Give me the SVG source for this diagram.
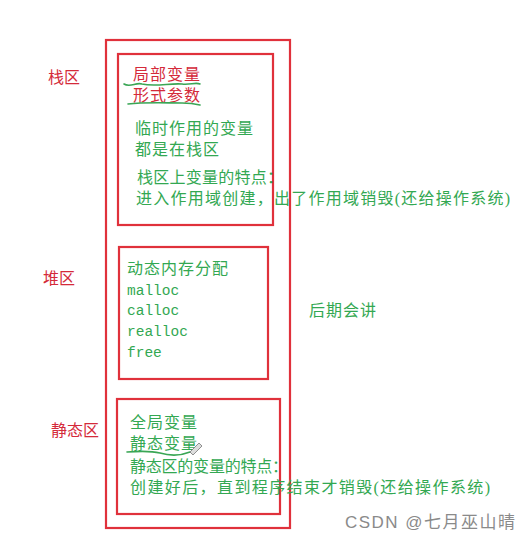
<svg xmlns="http://www.w3.org/2000/svg" width="531" height="541" viewBox="0 0 531 541">
<style>
.box{fill:none;stroke:#e0313b;stroke-width:2.2}
.lbl{font-family:"Liberation Serif","Noto Sans CJK SC",serif;font-size:16px;fill:#d42a3a}
.g{font-family:"Liberation Serif","Noto Sans CJK SC",serif;font-size:16px;fill:#33a852}
.r{font-family:"Liberation Serif","Noto Sans CJK SC",serif;font-size:16px;fill:#d42a3a}
.m{font-family:"Liberation Mono",monospace;font-size:14.5px;fill:#33a852}
.ink{fill:none;stroke:#3aa655;stroke-width:1.6;stroke-linecap:round}
.wm{font-family:"Liberation Sans","Noto Sans CJK SC",sans-serif;font-size:17px;fill:#8a8a8a}
</style>
<rect width="531" height="541" fill="#ffffff"/>
<g id="memory">
<rect class="box" x="106" y="40" width="184" height="488"/>
</g>
<g id="stack-label"><text class="lbl" x="48" y="83">栈区</text></g>
<g id="heap-label"><text class="lbl" x="43" y="284">堆区</text></g>
<g id="static-label"><text class="lbl" x="51" y="436">静态区</text></g>
<g id="stack">
<rect class="box" x="118" y="54" width="155" height="171"/>
<text class="r" x="133" y="80" textLength="67">局部变量</text>
<text class="r" x="133" y="101" textLength="67">形式参数</text>
<text class="g" x="135" y="134" textLength="118">临时作用的变量</text>
<text class="g" x="135" y="155" textLength="84">都是在栈区</text>
<text class="g" x="137" y="183" textLength="146">栈区上变量的特点：</text>
<text class="g" x="136" y="204" textLength="374">进入作用域创建，出了作用域销毁(还给操作系统)</text>
</g>
<g id="heap">
<rect class="box" x="119" y="247" width="149" height="132"/>
<text class="g" x="127" y="274" textLength="101">动态内存分配</text>
<text class="m" x="127" y="295">malloc</text>
<text class="m" x="127" y="315">calloc</text>
<text class="m" x="127" y="336">realloc</text>
<text class="m" x="127" y="357">free</text>
</g>
<g id="later"><text class="g" x="309" y="316" textLength="67">后期会讲</text></g>
<g id="static">
<rect class="box" x="117" y="399" width="163" height="115"/>
<text class="g" x="130" y="428" textLength="67">全局变量</text>
<text class="g" x="130" y="449" textLength="67">静态变量</text>
<text class="g" x="130" y="472" textLength="158">静态区的变量的特点：</text>
<text class="g" x="130" y="493" textLength="360">创建好后，直到程序结束才销毁(还给操作系统)</text>
</g>
<g id="connectors">
<path class="ink" d="M124,84 C130,88 136,82 142,84 C155,87 170,83 182,84 C190,85 196,82 200,84"/>
<path class="ink" d="M128,104 C145,102 165,103 182,103 C190,103 196,104 200,105"/>
<path class="ink" d="M127,452 C140,451 152,451 160,453 C170,456 180,456 190,452"/>
<path d="M190,452 L199,443 L202,446 L193,455 Z" fill="#dddddd" stroke="#777777" stroke-width="0.8"/>
</g>
<text class="wm" x="345" y="528" textLength="170">CSDN @七月巫山晴</text>
</svg>
